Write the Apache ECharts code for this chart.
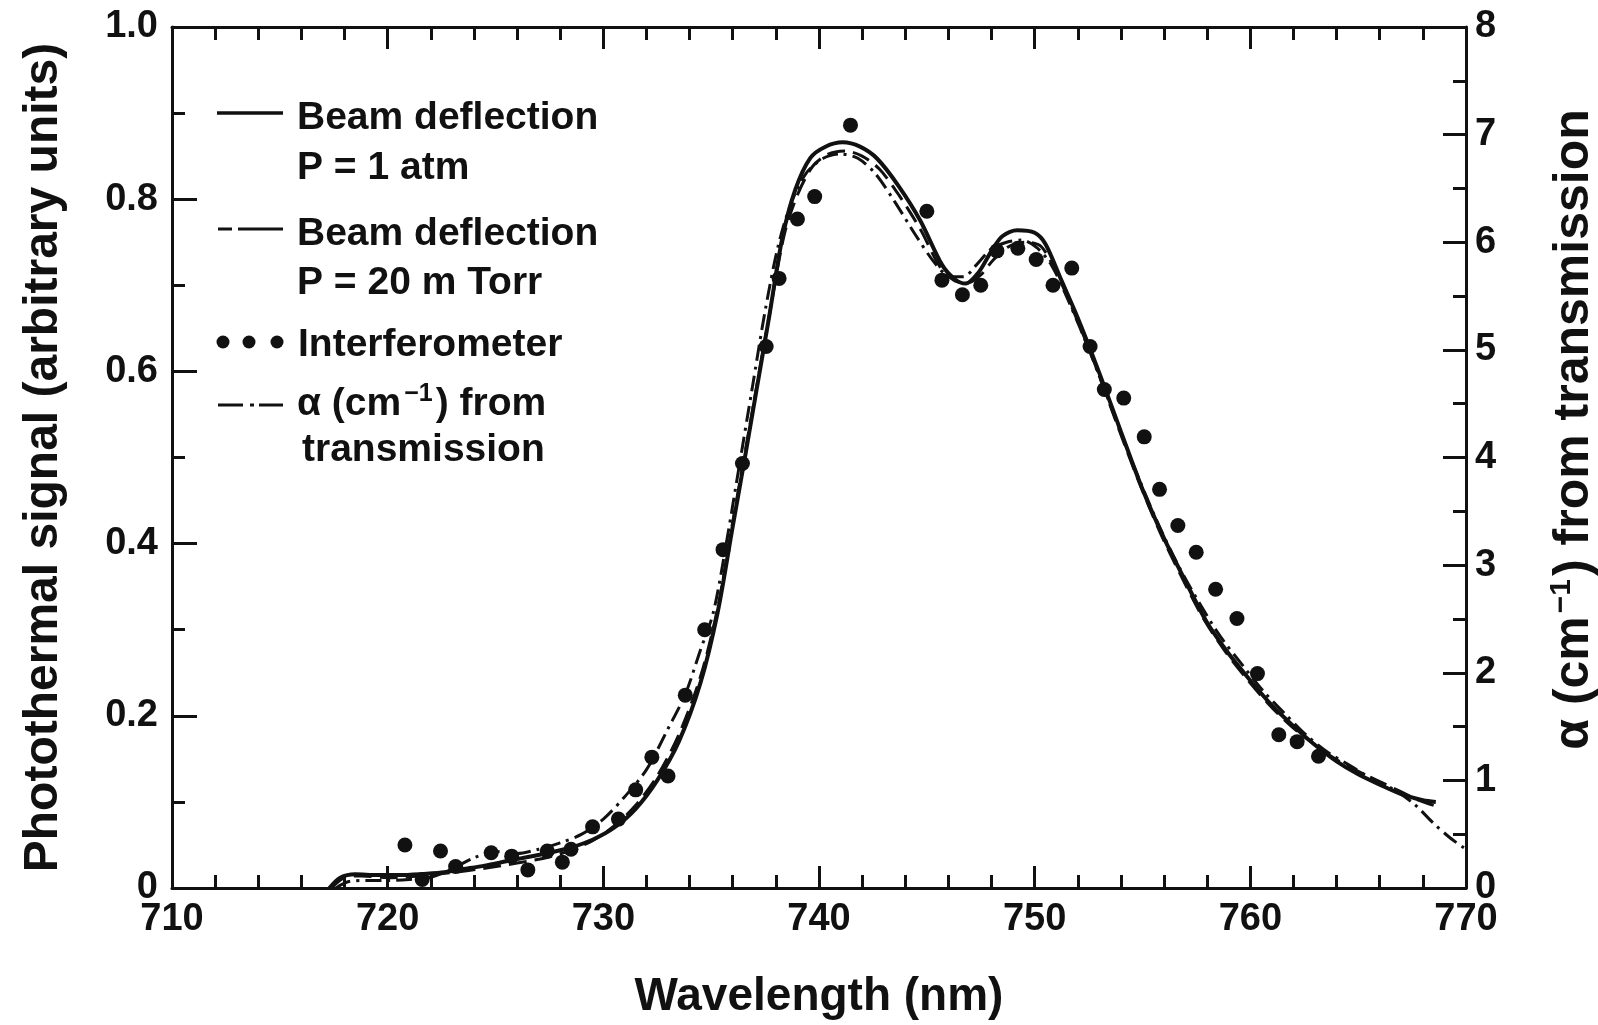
<!DOCTYPE html>
<html>
<head>
<meta charset="utf-8">
<title>Photothermal signal vs wavelength</title>
<script src="https://cdn.jsdelivr.net/npm/echarts@6/dist/echarts.min.js"></script>
<style>
  html, body { margin: 0; padding: 0; background: #fff; }
  #chart { width: 1598px; height: 1025px; }
</style>
</head>
<body>
<div id="chart"></div>
<script>
// beam deflection, P = 1 atm (solid)
var atmWl = [717.3, 717.8, 718.5, 719.5, 720.5, 721.5, 722.5, 723.5, 724.5, 725.5, 726.5, 727.5, 728.5, 729.5, 730.5, 731.5, 732.5, 733.5, 734.5, 735.3, 736.0, 736.6, 737.1, 737.7, 738.3, 738.9, 739.6, 740.3, 741.1, 741.9, 742.7, 743.7, 744.7, 745.7, 746.3, 746.8, 747.4, 748.0, 748.5, 749.2, 750.0, 750.5, 751.2, 752.0, 753.0, 754.0, 755.0, 756.0, 757.0, 758.0, 759.0, 760.0, 761.0, 762.0, 763.0, 764.0, 765.0, 766.0, 767.0, 768.0, 768.6];
var atmSig = [0, 0.012, 0.016, 0.015, 0.015, 0.016, 0.018, 0.022, 0.026, 0.031, 0.036, 0.041, 0.047, 0.056, 0.070, 0.092, 0.125, 0.170, 0.238, 0.32, 0.42, 0.505, 0.578, 0.665, 0.755, 0.811, 0.848, 0.861, 0.866, 0.861, 0.847, 0.815, 0.775, 0.724, 0.707, 0.702, 0.715, 0.740, 0.757, 0.764, 0.761, 0.748, 0.708, 0.662, 0.598, 0.530, 0.463, 0.406, 0.356, 0.308, 0.272, 0.241, 0.212, 0.188, 0.166, 0.147, 0.132, 0.120, 0.109, 0.102, 0.100];

// beam deflection, P = 20 mTorr (dashed)
var torrWl = [717.4, 718.0, 718.8, 720.0, 721.5, 723.0, 724.5, 726.0, 727.5, 728.5, 729.5, 730.5, 731.5, 732.5, 733.5, 734.5, 735.3, 736.0, 736.6, 737.2, 737.8, 738.4, 739.0, 739.7, 740.4, 741.2, 742.0, 742.8, 743.7, 744.7, 745.6, 746.3, 746.9, 747.5, 748.1, 748.8, 749.6, 750.3, 751.0, 751.8, 752.8, 753.8, 754.8, 755.8, 756.8, 757.8, 758.8, 759.8, 760.8, 761.8, 762.8, 763.8, 764.8, 765.8, 766.8, 767.8, 768.5];
var torrSig = [0, 0.012, 0.014, 0.012, 0.014, 0.018, 0.023, 0.029, 0.036, 0.044, 0.055, 0.072, 0.096, 0.130, 0.178, 0.245, 0.325, 0.425, 0.51, 0.595, 0.68, 0.76, 0.805, 0.838, 0.852, 0.856, 0.850, 0.835, 0.805, 0.765, 0.722, 0.705, 0.703, 0.712, 0.730, 0.745, 0.750, 0.745, 0.715, 0.670, 0.608, 0.540, 0.474, 0.414, 0.362, 0.314, 0.276, 0.244, 0.215, 0.190, 0.170, 0.152, 0.138, 0.126, 0.114, 0.102, 0.096];

// interferometer (dots)
var intWl = [720.8, 721.6, 722.45, 723.15, 724.8, 725.75, 726.5, 727.4, 728.1, 728.5, 729.5, 730.7, 731.5, 732.25, 733.0, 733.8, 734.7, 735.55, 736.45, 737.55, 738.15, 739.0, 739.8, 741.46, 745.0, 745.7, 746.65, 747.5, 748.25, 749.22, 750.07, 750.85, 751.72, 752.57, 753.23, 754.13, 755.08, 755.79, 756.64, 757.49, 758.39, 759.38, 760.33, 761.32, 762.17, 763.16];
var intSig = [0.050, 0.010, 0.043, 0.025, 0.041, 0.037, 0.021, 0.043, 0.030, 0.045, 0.071, 0.080, 0.114, 0.152, 0.130, 0.224, 0.300, 0.393, 0.493, 0.629, 0.708, 0.777, 0.803, 0.886, 0.786, 0.706, 0.689, 0.700, 0.740, 0.743, 0.730, 0.700, 0.720, 0.629, 0.579, 0.569, 0.524, 0.463, 0.421, 0.390, 0.347, 0.313, 0.249, 0.178, 0.170, 0.153];

// alpha (cm-1) from transmission (dash-dot, right axis)
var alphaWl = [717.6, 718.2, 719.0, 720.0, 721.0, 722.0, 723.0, 724.0, 725.0, 726.0, 727.0, 728.0, 729.0, 730.0, 731.0, 732.0, 733.0, 733.8, 734.5, 735.1, 735.7, 736.3, 736.9, 737.5, 738.1, 738.7, 739.4, 740.2, 741.0, 741.8, 742.6, 743.5, 744.5, 745.4, 746.1, 746.7, 747.3, 748.0, 748.7, 749.4, 750.1, 750.8, 751.6, 752.6, 753.6, 754.6, 755.6, 756.6, 757.6, 758.6, 759.6, 760.6, 761.6, 762.6, 763.6, 764.6, 765.6, 766.6, 767.6, 768.5, 769.3, 770.0];
var alphaVal = [0, 0.06, 0.07, 0.07, 0.08, 0.10, 0.18, 0.28, 0.34, 0.32, 0.36, 0.42, 0.50, 0.64, 0.85, 1.10, 1.48, 1.80, 2.21, 2.56, 3.20, 3.92, 4.64, 5.36, 5.96, 6.36, 6.64, 6.78, 6.82, 6.78, 6.64, 6.38, 6.06, 5.80, 5.68, 5.68, 5.79, 5.94, 6.00, 6.02, 5.95, 5.78, 5.44, 4.96, 4.44, 3.92, 3.44, 3.02, 2.66, 2.34, 2.08, 1.83, 1.62, 1.42, 1.26, 1.14, 1.02, 0.92, 0.78, 0.60, 0.46, 0.36];

var leftTicks = [0, 0.2, 0.4, 0.6, 0.8, 1.0];

var FONT = 'Liberation Sans';
var INK = '#111';

function pairs(xs, ys) {
  return xs.map(function (x, i) { return [x, ys[i]]; });
}

var chart = echarts.init(document.getElementById('chart'), null, { renderer: 'canvas' });

var lineStyleAxis = { color: INK, width: 3 };
var labelStyle = { color: INK, fontFamily: FONT, fontWeight: 'bold', fontSize: 38 };
var legendText = { fill: INK, fontFamily: FONT, fontWeight: 'bold', fontSize: 39, verticalAlign: 'middle' };

function xAxisBase(pos) {
  return {
    type: 'value', min: 710, max: 770, interval: 10, position: pos,
    axisLine: { show: true, onZero: false, lineStyle: lineStyleAxis },
    axisTick: { show: true, inside: true, length: 22, lineStyle: lineStyleAxis },
    minorTick: { show: true, splitNumber: 5, length: 13, lineStyle: lineStyleAxis },
    splitLine: { show: false },
    minorSplitLine: { show: false }
  };
}

var bottomX = xAxisBase('bottom');
bottomX.axisLabel = Object.assign({ margin: 13, showMinLabel: true, showMaxLabel: true }, labelStyle);
bottomX.name = 'Wavelength (nm)';
bottomX.nameLocation = 'middle';
bottomX.nameGap = 86;
bottomX.nameTextStyle = { color: INK, fontFamily: FONT, fontWeight: 'bold', fontSize: 46 };

var topX = xAxisBase('top');
topX.axisLabel = { show: false };

var option = {
  animation: false,
  backgroundColor: '#fff',
  grid: { left: 172, right: 132, top: 27, bottom: 137, containLabel: false, outerBoundsMode: 'none' },
  xAxis: [bottomX, topX],
  yAxis: [{
    type: 'value', min: 0, max: 1, interval: 0.2, position: 'left',
    axisLine: { show: true, onZero: false, lineStyle: lineStyleAxis },
    axisTick: { show: true, inside: true, length: 25, lineStyle: lineStyleAxis },
    minorTick: { show: true, splitNumber: 2, length: 13, lineStyle: lineStyleAxis },
    splitLine: { show: false },
    axisLabel: Object.assign({
      margin: 14, showMinLabel: true, showMaxLabel: true,
      formatter: function (v) {
        var t = leftTicks.find(function (k) { return Math.abs(k - v) < 1e-6; });
        return t === 0 ? '0' : t.toFixed(1);
      }
    }, labelStyle),
    name: 'Photothermal signal (arbitrary units)',
    nameLocation: 'middle', nameRotate: 90, nameGap: 104,
    nameTextStyle: { color: INK, fontFamily: FONT, fontWeight: 'bold', fontSize: 48 }
  }, {
    type: 'value', min: 0, max: 8, interval: 1, position: 'right',
    axisLine: { show: true, onZero: false, lineStyle: lineStyleAxis },
    axisTick: { show: true, inside: true, length: 23, lineStyle: lineStyleAxis },
    minorTick: { show: true, splitNumber: 2, length: 13, lineStyle: lineStyleAxis },
    splitLine: { show: false },
    axisLabel: Object.assign({ margin: 9, showMinLabel: true, showMaxLabel: true }, labelStyle),
    name: '{a|α (cm}{s|−1}{a|) from transmission}',
    nameLocation: 'middle', nameRotate: 90, nameGap: 81,
    nameTextStyle: {
      color: INK, fontFamily: FONT, fontWeight: 'bold', fontSize: 50, padding: [0, 0, 0, 56],
      rich: {
        a: { color: INK, fontFamily: FONT, fontWeight: 'bold', fontSize: 50 },
        s: { color: INK, fontFamily: FONT, fontWeight: 'bold', fontSize: 30, verticalAlign: 'top', padding: [0, 3, 24, 3] }
      }
    }
  }],
  series: [{
    name: 'Beam deflection P = 1 atm',
    type: 'line', xAxisIndex: 0, yAxisIndex: 0,
    data: pairs(atmWl, atmSig),
    smooth: 0.3, symbol: 'none',
    lineStyle: { color: INK, width: 4 }
  }, {
    name: 'Beam deflection P = 20 m Torr',
    type: 'line', xAxisIndex: 0, yAxisIndex: 0,
    data: pairs(torrWl, torrSig),
    smooth: 0.3, symbol: 'none',
    lineStyle: { color: INK, width: 3, type: [18, 8] }
  }, {
    name: 'Interferometer',
    type: 'scatter', xAxisIndex: 0, yAxisIndex: 0,
    data: pairs(intWl, intSig),
    symbol: 'circle', symbolSize: 15,
    itemStyle: { color: INK, opacity: 1 }
  }, {
    name: 'α (cm-1) from transmission',
    type: 'line', xAxisIndex: 0, yAxisIndex: 1,
    data: pairs(alphaWl, alphaVal),
    smooth: 0.3, symbol: 'none',
    lineStyle: { color: INK, width: 3, type: [16, 6, 3, 6] }
  }],
  // hand-drawn key, as in the original figure
  graphic: [
    { type: 'line', shape: { x1: 217, y1: 113, x2: 283, y2: 113 }, style: { stroke: INK, lineWidth: 3.5 } },
    { type: 'text', x: 297, y: 118, style: Object.assign({ text: 'Beam deflection' }, legendText) },
    { type: 'text', x: 297, y: 168, style: Object.assign({ text: 'P = 1 atm' }, legendText) },

    { type: 'line', shape: { x1: 218, y1: 229, x2: 232, y2: 229 }, style: { stroke: INK, lineWidth: 3 } },
    { type: 'line', shape: { x1: 238, y1: 229, x2: 283, y2: 229 }, style: { stroke: INK, lineWidth: 3 } },
    { type: 'text', x: 297, y: 234, style: Object.assign({ text: 'Beam deflection' }, legendText) },
    { type: 'text', x: 297, y: 283, style: Object.assign({ text: 'P = 20 m Torr' }, legendText) },

    { type: 'circle', shape: { cx: 223, cy: 342, r: 6.5 }, style: { fill: INK } },
    { type: 'circle', shape: { cx: 249, cy: 342, r: 6.5 }, style: { fill: INK } },
    { type: 'circle', shape: { cx: 277, cy: 342, r: 6.5 }, style: { fill: INK } },
    { type: 'text', x: 298, y: 345, style: Object.assign({ text: 'Interferometer' }, legendText) },

    { type: 'line', shape: { x1: 218, y1: 405, x2: 243, y2: 405 }, style: { stroke: INK, lineWidth: 3 } },
    { type: 'line', shape: { x1: 250, y1: 405, x2: 254, y2: 405 }, style: { stroke: INK, lineWidth: 3 } },
    { type: 'line', shape: { x1: 259, y1: 405, x2: 283, y2: 405 }, style: { stroke: INK, lineWidth: 3 } },
    { type: 'text', x: 297, y: 404, style: Object.assign({
        text: '{a|α (cm}{s|−1}{a|) from}',
        rich: {
          a: { fill: INK, fontFamily: FONT, fontWeight: 'bold', fontSize: 39 },
          s: { fill: INK, fontFamily: FONT, fontWeight: 'bold', fontSize: 25, verticalAlign: 'top', padding: [0, 3, 20, 3] }
        }
      }, legendText) },
    { type: 'text', x: 302, y: 450, style: Object.assign({ text: 'transmission' }, legendText) }
  ]
};

chart.setOption(option);
</script>
</body>
</html>
